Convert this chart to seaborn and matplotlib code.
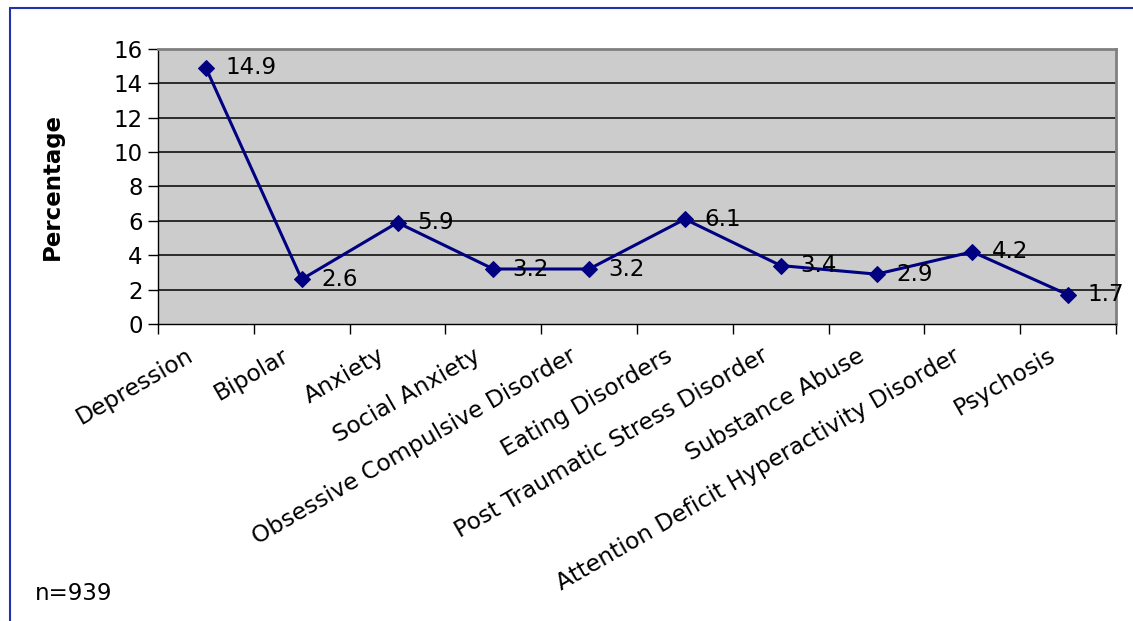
import matplotlib
matplotlib.use("Agg")
import matplotlib.pyplot as plt
import matplotlib.transforms as mtransforms
from matplotlib.lines import Line2D
import seaborn as sns
import pandas as pd

categories = ["Depression", "Bipolar", "Anxiety", "Social Anxiety",
              "Obsessive Compulsive Disorder", "Eating Disorders",
              "Post Traumatic Stress Disorder", "Substance Abuse",
              "Attention Deficit Hyperactivity Disorder", "Psychosis"]
percentages = [14.9, 2.6, 5.9, 3.2, 3.2, 6.1, 3.4, 2.9, 4.2, 1.7]
y_ticks = [0, 2, 4, 6, 8, 10, 12, 14, 16]

sns.set_style("white")
plt.rcParams['font.family'] = ['DejaVu Sans']
plt.rcParams['text.color'] = 'black'
plt.rcParams['xtick.color'] = 'black'
plt.rcParams['ytick.color'] = 'black'
plt.rcParams['axes.labelcolor'] = 'black'

FS = 16.5

df = pd.DataFrame({"pos": range(len(categories)), "pct": percentages})

fig = plt.figure(figsize=(11.33, 6.21), dpi=100)
ax = fig.add_axes([158 / 1133, 1 - 324 / 621, (1116 - 158) / 1133, (324 - 49) / 621])
ax.set_facecolor("#CCCCCC")

for yv in y_ticks[1:-1]:
    ax.axhline(yv, color="black", lw=1.1, zorder=1)

sns.lineplot(data=df, x="pos", y="pct", ax=ax, color="#000080", lw=2.2,
             marker="D", markersize=8, markeredgecolor="#000080", zorder=3)

for i, v in enumerate(percentages):
    ax.annotate(f"{v}", (i, v), xytext=(14, 0), textcoords="offset points",
                va="center", ha="left", fontsize=FS, color="black", zorder=4)

ax.set_xlim(-0.5, len(categories) - 0.5)
ax.set_ylim(0, 16)
ax.set_yticks(y_ticks)
ax.set_yticklabels([str(t) for t in y_ticks], fontsize=FS)
# ticks sit on the category boundaries, labels go in between
ax.set_xticks([i - 0.5 for i in range(len(categories) + 1)])
ax.set_xticklabels([])

# rotated category labels, ending just left of each category centre
base = mtransforms.blended_transform_factory(ax.transData, ax.transAxes)
offset = mtransforms.ScaledTranslation(-20 / 100, -20 / 100, fig.dpi_scale_trans)
for i, cat in enumerate(categories):
    ax.text(i, 0, cat, transform=base + offset, rotation=30, ha="right",
            va="top", rotation_mode="anchor", fontsize=16.8, clip_on=False)

ax.tick_params(axis="both", which="major", length=7, width=1, color="black",
               direction="out", bottom=True, left=True)
ax.tick_params(axis="y", pad=4)
ax.set_xlabel("")
ax.set_ylabel("Percentage", fontsize=FS, fontweight="bold", labelpad=36)

for s in ax.spines.values():
    s.set_color("#808080")
    s.set_linewidth(2)
ax.spines["left"].set_color("black")
ax.spines["left"].set_linewidth(1)
ax.spines["bottom"].set_color("black")
ax.spines["bottom"].set_linewidth(1)

fig.text(35 / 1133, 1 - 593 / 621, "n=939", fontsize=FS, va="center", ha="left")

# outer frame (only top and left edges visible)
fig.add_artist(Line2D([10 / 1133, 1], [1 - 8 / 621, 1 - 8 / 621],
                      transform=fig.transFigure, color="#2233AA", lw=1.5))
fig.add_artist(Line2D([10 / 1133, 10 / 1133], [1 - 8 / 621, 0],
                      transform=fig.transFigure, color="#2233AA", lw=1.5))

fig.savefig("out.png", dpi=100)
